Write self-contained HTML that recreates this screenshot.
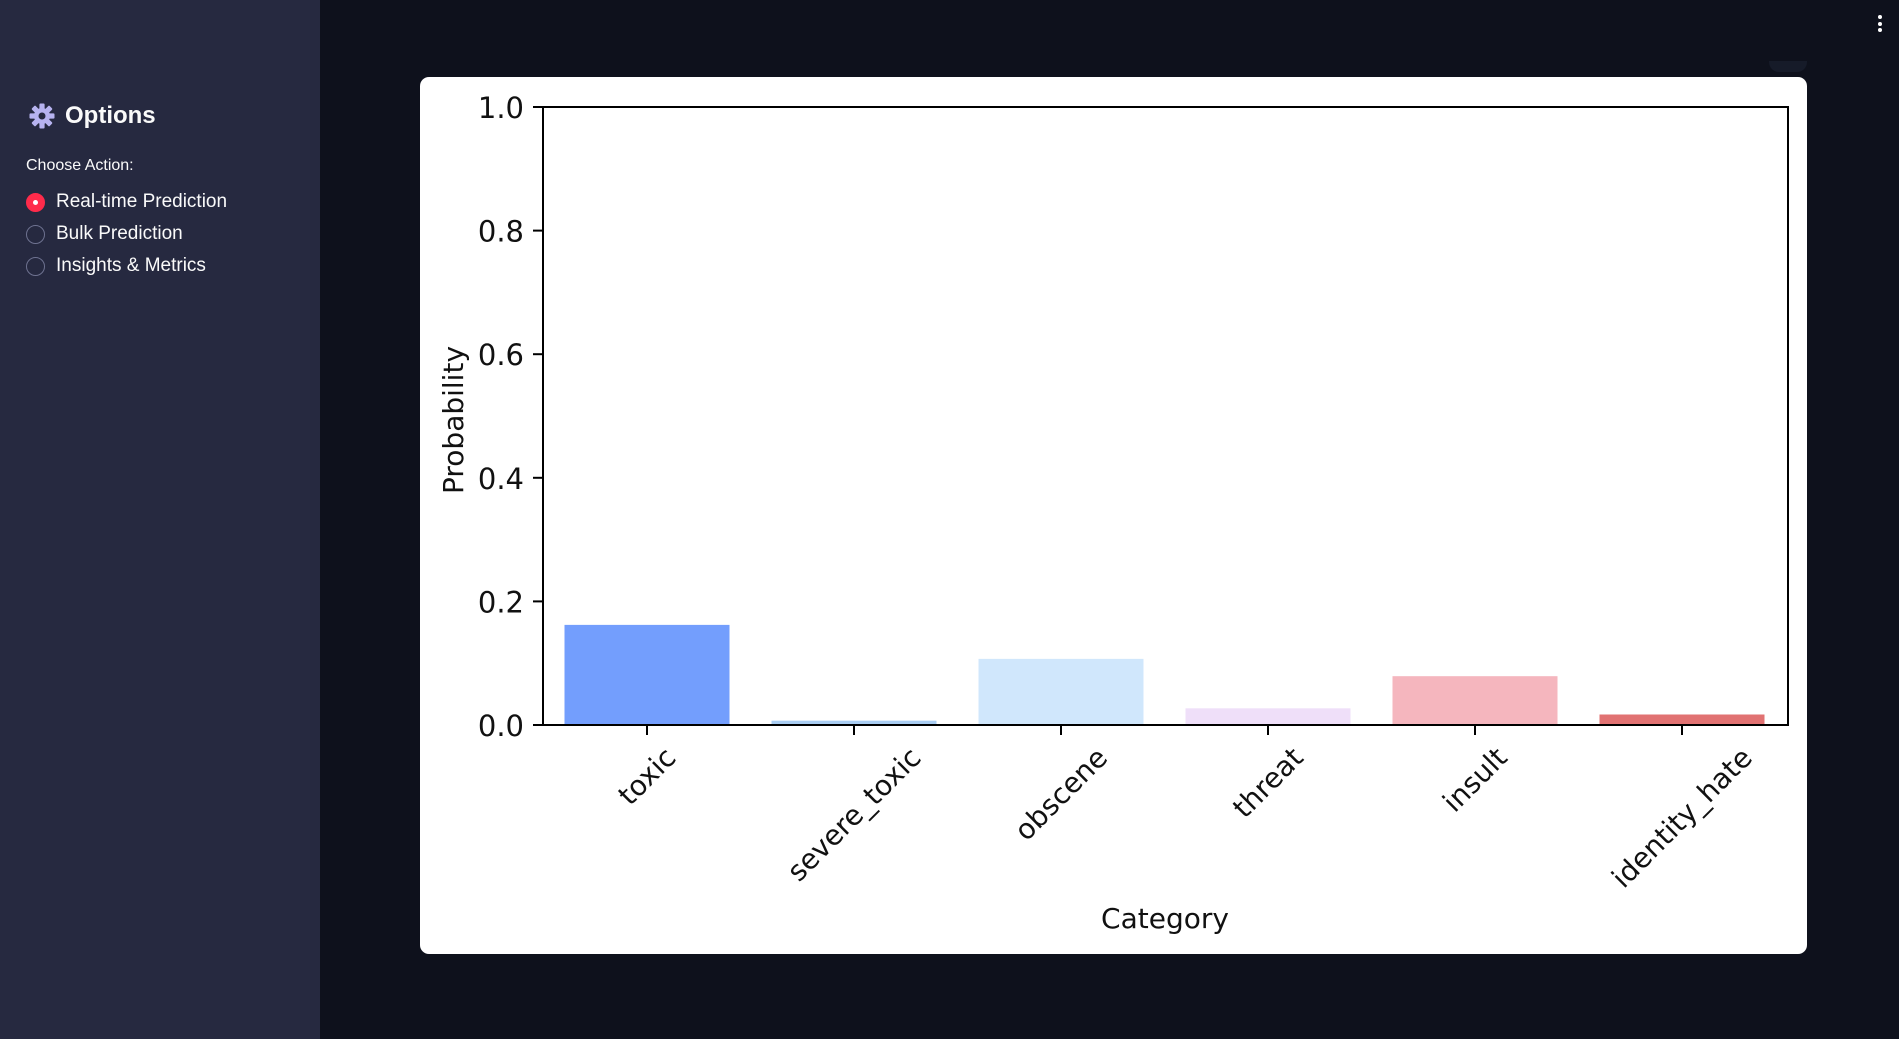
<!DOCTYPE html>
<html><head><meta charset="utf-8"><style>
html,body{margin:0;padding:0;width:1899px;height:1039px;overflow:hidden;background:#0e111c;font-family:"Liberation Sans",sans-serif}
#sidebar{position:absolute;left:0;top:0;width:320px;height:1039px;background:#262940}
.t{position:absolute;color:#fafafa;white-space:nowrap}
.radio{position:absolute;left:26px;width:19px;height:19px;border-radius:50%;border:1.5px solid #6e7290;box-sizing:border-box}
#card{position:absolute;left:420px;top:77px;width:1387px;height:877px;background:#fff;border-radius:9px}
</style></head><body>
<div id="sidebar">
  <svg style="position:absolute;left:29px;top:103px" width="26" height="26" viewBox="-13 -13 26 26">
    <g fill="#b7b3f0"><circle r="8"/>
    <g id="tth"><rect x="-2.6" y="-12.5" width="5.2" height="6" rx="1"/></g>
    <use href="#tth" transform="rotate(45)"/><use href="#tth" transform="rotate(90)"/><use href="#tth" transform="rotate(135)"/><use href="#tth" transform="rotate(180)"/><use href="#tth" transform="rotate(225)"/><use href="#tth" transform="rotate(270)"/><use href="#tth" transform="rotate(315)"/></g>
    <circle r="3.5" fill="#262940"/></svg>
  <div class="t" style="left:65px;top:102px;font-size:24px;font-weight:bold">Options</div>
  <div class="t" style="left:26px;top:157px;font-size:16px">Choose Action:</div>
  <div class="radio" style="top:193px;background:#ff2b4b;border-color:#ff2b4b"><div style="position:absolute;left:5.5px;top:5.5px;width:5px;height:5px;border-radius:50%;background:#fff"></div></div>
  <div class="t" style="left:56px;top:191px;font-size:19px">Real-time Prediction</div>
  <div class="radio" style="top:225px"></div>
  <div class="t" style="left:56px;top:223px;font-size:19px">Bulk Prediction</div>
  <div class="radio" style="top:257px"></div>
  <div class="t" style="left:56px;top:255px;font-size:19px">Insights &amp; Metrics</div>
</div>
<div style="position:absolute;left:1878px;top:15px;width:5px">
  <div style="width:4px;height:4px;border-radius:50%;background:#fff;margin-bottom:2.5px"></div>
  <div style="width:4px;height:4px;border-radius:50%;background:#fff;margin-bottom:2.5px"></div>
  <div style="width:4px;height:4px;border-radius:50%;background:#fff"></div>
</div>
<div style="position:absolute;left:1769px;top:61px;width:38px;height:11px;background:#161b29;border-radius:0 0 10px 10px"></div>
<div id="card"></div>
<svg id="chart" style="position:absolute;left:0;top:0" width="1899" height="1039"></svg>
<script>
const categories=["toxic","severe_toxic","obscene","threat","insult","identity_hate"];
const values=[0.162,0.007,0.107,0.027,0.079,0.017];
const colors=["#739efd","#a9cdf2","#d0e7fc","#efdff9","#f5b6be","#e17272"];
const yTicks=[0,0.2,0.4,0.6,0.8,1.0];
const yTickLabels=["0.0","0.2","0.4","0.6","0.8","1.0"];
const NS="http://www.w3.org/2000/svg";
const svg=document.getElementById('chart');
const L=543,R=1788,T=107,B=725;
const y=v=>B-(v-0)/(1-0)*(B-T);
const x0=647,step=207,bw=165;
const x=i=>x0+i*step;
function mk(tag,attrs,parent){const e=document.createElementNS(NS,tag);for(const k in attrs)e.setAttribute(k,attrs[k]);(parent||svg).appendChild(e);return e;}
const font='"DejaVu Sans","Liberation Sans",sans-serif';
categories.forEach((c,i)=>{
  const h=y(0)-y(values[i]);
  const r=mk('rect',{x:x(i)-bw/2,y:y(values[i]),width:bw,height:h,fill:colors[i]});
  
  
  const tk=mk('line',{x1:x(i),x2:x(i),y1:B,y2:B+10,stroke:'#000','stroke-width':2});
  
  
  const t=mk('text',{x:0,y:0,'font-size':28,'font-family':font,'text-anchor':'middle','dominant-baseline':'central',fill:'#111'});
  t.textContent=c;
  
  
  const w=t.getComputedTextLength();
  const cy=741+(w+33)*0.7071/2;
  t.setAttribute('transform','translate('+x(i)+','+cy+') rotate(-45)');
});
yTicks.forEach((v,i)=>{
  const tk=mk('line',{x1:L-10,x2:L,y1:y(v),y2:y(v),stroke:'#000','stroke-width':2});
  
  
  const t=mk('text',{x:L-19,y:y(v)+11,'font-size':29,'font-family':font,'text-anchor':'end',fill:'#111'});
  t.textContent=yTickLabels[i];
  
  
});
const fr=mk('rect',{x:L,y:T,width:R-L,height:B-T,fill:'none',stroke:'#000','stroke-width':2});


const yl=mk('text',{x:0,y:0,'font-size':28,'font-family':font,'text-anchor':'middle',fill:'#111',transform:'translate(463,420) rotate(-90)'});
yl.textContent='Probability';


const xl=mk('text',{x:1165,y:928,'font-size':28,'font-family':font,'text-anchor':'middle',fill:'#111'});
xl.textContent='Category';


</script>
</body></html>
